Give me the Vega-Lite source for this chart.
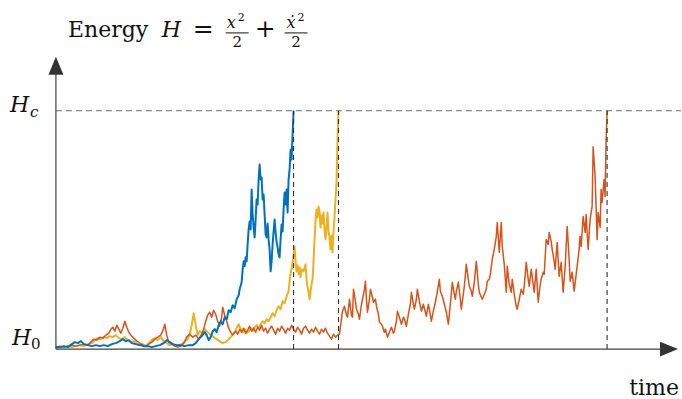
{
"$schema": "https://vega.github.io/schema/vega-lite/v6.json",
"width": 682, "height": 399,
"autosize": {"type": "fit", "contains": "padding"},
"padding": 0,
"background": "white",
"config": {"view": {"stroke": null}, "mark": {"font": "DejaVu Serif"}},
"data": {"values": [{}]},
"datasets": {
"blue": [{"t":0,"H":2},{"t":4,"H":2},{"t":8,"H":3},{"t":12,"H":2},{"t":16,"H":5},{"t":19,"H":7},{"t":22,"H":6},{"t":25,"H":8},{"t":28,"H":5},{"t":32,"H":4},{"t":36,"H":3},{"t":40,"H":4},{"t":44,"H":3},{"t":48,"H":4},{"t":52,"H":3},{"t":56,"H":5},{"t":60,"H":6},{"t":64,"H":8},{"t":67,"H":10},{"t":70,"H":8},{"t":73,"H":9},{"t":76,"H":6},{"t":80,"H":5},{"t":84,"H":4},{"t":88,"H":3},{"t":92,"H":3},{"t":96,"H":2},{"t":100,"H":3},{"t":104,"H":4},{"t":108,"H":6},{"t":111,"H":9},{"t":114,"H":7},{"t":117,"H":5},{"t":121,"H":4},{"t":125,"H":4},{"t":129,"H":3},{"t":133,"H":4},{"t":137,"H":4},{"t":140,"H":6},{"t":143,"H":10},{"t":146,"H":13},{"t":149,"H":17},{"t":151,"H":14},{"t":153,"H":9},{"t":155,"H":12},{"t":157,"H":18},{"t":159,"H":20},{"t":161,"H":17},{"t":163,"H":24},{"t":165,"H":28},{"t":167,"H":25},{"t":169,"H":32},{"t":171,"H":30},{"t":173,"H":39},{"t":175,"H":37},{"t":177,"H":44},{"t":179,"H":41},{"t":181,"H":50},{"t":183,"H":54},{"t":184,"H":60},{"t":186,"H":67},{"t":187,"H":80},{"t":188,"H":88},{"t":189,"H":83},{"t":190,"H":92},{"t":191,"H":88},{"t":192,"H":105},{"t":193,"H":120},{"t":194,"H":128},{"t":195,"H":120},{"t":196,"H":160},{"t":197,"H":135},{"t":198,"H":122},{"t":199,"H":112},{"t":200,"H":130},{"t":201,"H":150},{"t":202,"H":145},{"t":203,"H":170},{"t":204,"H":185},{"t":205,"H":170},{"t":206,"H":172},{"t":207,"H":150},{"t":208,"H":155},{"t":209,"H":135},{"t":210,"H":115},{"t":211,"H":112},{"t":212,"H":126},{"t":213,"H":110},{"t":214,"H":100},{"t":215,"H":78},{"t":216,"H":88},{"t":217,"H":105},{"t":218,"H":118},{"t":219,"H":130},{"t":220,"H":117},{"t":221,"H":108},{"t":222,"H":102},{"t":223,"H":95},{"t":224,"H":92},{"t":225,"H":110},{"t":226,"H":125},{"t":227,"H":118},{"t":228,"H":140},{"t":229,"H":157},{"t":230,"H":145},{"t":231,"H":160},{"t":232,"H":137},{"t":233,"H":170},{"t":234,"H":180},{"t":235,"H":200},{"t":236,"H":190},{"t":237,"H":215},{"t":238,"H":239}],
"yellow": [{"t":0,"H":2},{"t":4,"H":2},{"t":8,"H":2},{"t":12,"H":3},{"t":16,"H":2},{"t":20,"H":3},{"t":24,"H":4},{"t":28,"H":3},{"t":32,"H":5},{"t":36,"H":6},{"t":39,"H":9},{"t":42,"H":11},{"t":45,"H":10},{"t":48,"H":12},{"t":51,"H":11},{"t":54,"H":13},{"t":57,"H":12},{"t":60,"H":14},{"t":63,"H":11},{"t":66,"H":10},{"t":69,"H":12},{"t":72,"H":9},{"t":75,"H":7},{"t":78,"H":8},{"t":81,"H":5},{"t":84,"H":4},{"t":87,"H":5},{"t":90,"H":3},{"t":93,"H":6},{"t":96,"H":9},{"t":99,"H":11},{"t":102,"H":9},{"t":105,"H":12},{"t":108,"H":8},{"t":111,"H":6},{"t":114,"H":4},{"t":117,"H":5},{"t":120,"H":3},{"t":123,"H":4},{"t":126,"H":5},{"t":129,"H":7},{"t":132,"H":10},{"t":134,"H":15},{"t":136,"H":24},{"t":138,"H":36},{"t":140,"H":24},{"t":142,"H":14},{"t":144,"H":18},{"t":146,"H":16},{"t":149,"H":20},{"t":152,"H":17},{"t":155,"H":14},{"t":158,"H":12},{"t":161,"H":10},{"t":164,"H":8},{"t":167,"H":6},{"t":170,"H":7},{"t":173,"H":10},{"t":176,"H":13},{"t":179,"H":17},{"t":181,"H":21},{"t":183,"H":25},{"t":185,"H":20},{"t":187,"H":17},{"t":189,"H":20},{"t":191,"H":16},{"t":193,"H":18},{"t":195,"H":21},{"t":197,"H":18},{"t":199,"H":22},{"t":201,"H":24},{"t":203,"H":21},{"t":205,"H":25},{"t":207,"H":28},{"t":209,"H":26},{"t":211,"H":30},{"t":213,"H":28},{"t":215,"H":32},{"t":217,"H":36},{"t":219,"H":33},{"t":221,"H":39},{"t":223,"H":43},{"t":225,"H":40},{"t":227,"H":48},{"t":229,"H":46},{"t":231,"H":53},{"t":233,"H":58},{"t":234,"H":68},{"t":235,"H":76},{"t":236,"H":80},{"t":237,"H":88},{"t":238,"H":95},{"t":239,"H":103},{"t":240,"H":88},{"t":241,"H":78},{"t":242,"H":84},{"t":243,"H":75},{"t":244,"H":82},{"t":245,"H":72},{"t":246,"H":80},{"t":248,"H":78},{"t":250,"H":85},{"t":251,"H":70},{"t":252,"H":62},{"t":253,"H":57},{"t":254,"H":50},{"t":255,"H":58},{"t":256,"H":65},{"t":257,"H":70},{"t":258,"H":88},{"t":259,"H":110},{"t":260,"H":128},{"t":261,"H":140},{"t":262,"H":132},{"t":263,"H":143},{"t":264,"H":138},{"t":265,"H":122},{"t":266,"H":134},{"t":267,"H":126},{"t":268,"H":137},{"t":269,"H":120},{"t":270,"H":110},{"t":271,"H":122},{"t":272,"H":137},{"t":273,"H":118},{"t":274,"H":112},{"t":275,"H":100},{"t":276,"H":114},{"t":277,"H":97},{"t":278,"H":118},{"t":279,"H":132},{"t":280,"H":150},{"t":281,"H":167},{"t":282,"H":210},{"t":283,"H":239}],
"orange": [{"t":0,"H":2},{"t":4,"H":3},{"t":8,"H":2},{"t":12,"H":3},{"t":16,"H":4},{"t":20,"H":3},{"t":24,"H":4},{"t":28,"H":5},{"t":32,"H":4},{"t":35,"H":7},{"t":38,"H":10},{"t":41,"H":9},{"t":44,"H":12},{"t":47,"H":11},{"t":50,"H":14},{"t":53,"H":16},{"t":55,"H":20},{"t":57,"H":22},{"t":59,"H":18},{"t":61,"H":24},{"t":63,"H":20},{"t":65,"H":16},{"t":67,"H":21},{"t":69,"H":28},{"t":71,"H":22},{"t":73,"H":17},{"t":75,"H":14},{"t":78,"H":11},{"t":81,"H":8},{"t":84,"H":6},{"t":87,"H":4},{"t":90,"H":3},{"t":93,"H":5},{"t":96,"H":7},{"t":99,"H":10},{"t":102,"H":12},{"t":105,"H":14},{"t":107,"H":18},{"t":109,"H":25},{"t":111,"H":14},{"t":113,"H":7},{"t":116,"H":5},{"t":119,"H":3},{"t":122,"H":2},{"t":125,"H":3},{"t":128,"H":6},{"t":131,"H":12},{"t":134,"H":15},{"t":137,"H":12},{"t":140,"H":14},{"t":143,"H":10},{"t":146,"H":15},{"t":148,"H":20},{"t":150,"H":28},{"t":152,"H":34},{"t":154,"H":37},{"t":156,"H":32},{"t":158,"H":39},{"t":160,"H":35},{"t":162,"H":28},{"t":164,"H":23},{"t":166,"H":32},{"t":167,"H":42},{"t":169,"H":34},{"t":171,"H":28},{"t":173,"H":21},{"t":175,"H":17},{"t":177,"H":14},{"t":180,"H":18},{"t":182,"H":15},{"t":184,"H":20},{"t":186,"H":17},{"t":188,"H":21},{"t":190,"H":16},{"t":192,"H":19},{"t":194,"H":23},{"t":196,"H":18},{"t":198,"H":21},{"t":200,"H":17},{"t":202,"H":22},{"t":204,"H":19},{"t":206,"H":24},{"t":208,"H":18},{"t":210,"H":21},{"t":212,"H":16},{"t":214,"H":20},{"t":216,"H":23},{"t":218,"H":19},{"t":220,"H":15},{"t":222,"H":21},{"t":224,"H":18},{"t":226,"H":23},{"t":228,"H":20},{"t":230,"H":16},{"t":232,"H":21},{"t":234,"H":19},{"t":236,"H":24},{"t":238,"H":20},{"t":240,"H":17},{"t":242,"H":22},{"t":244,"H":19},{"t":246,"H":15},{"t":248,"H":21},{"t":250,"H":23},{"t":252,"H":19},{"t":254,"H":16},{"t":256,"H":20},{"t":258,"H":17},{"t":260,"H":22},{"t":262,"H":18},{"t":264,"H":15},{"t":266,"H":20},{"t":268,"H":17},{"t":270,"H":21},{"t":272,"H":16},{"t":274,"H":13},{"t":276,"H":10},{"t":278,"H":15},{"t":280,"H":12},{"t":282,"H":14},{"t":284,"H":15},{"t":285,"H":23},{"t":287,"H":38},{"t":289,"H":43},{"t":291,"H":34},{"t":292,"H":32},{"t":294,"H":50},{"t":296,"H":34},{"t":297,"H":32},{"t":298,"H":60},{"t":300,"H":48},{"t":301,"H":40},{"t":303,"H":35},{"t":304,"H":30},{"t":306,"H":45},{"t":307,"H":50},{"t":309,"H":60},{"t":310,"H":68},{"t":311,"H":50},{"t":312,"H":37},{"t":314,"H":50},{"t":315,"H":60},{"t":317,"H":52},{"t":318,"H":47},{"t":320,"H":50},{"t":321,"H":43},{"t":323,"H":35},{"t":324,"H":27},{"t":326,"H":25},{"t":327,"H":23},{"t":329,"H":17},{"t":330,"H":20},{"t":332,"H":12},{"t":334,"H":17},{"t":336,"H":22},{"t":338,"H":16},{"t":339,"H":18},{"t":341,"H":28},{"t":342,"H":38},{"t":344,"H":32},{"t":346,"H":25},{"t":348,"H":32},{"t":349,"H":30},{"t":351,"H":23},{"t":353,"H":35},{"t":355,"H":45},{"t":356,"H":57},{"t":358,"H":45},{"t":359,"H":40},{"t":361,"H":50},{"t":362,"H":60},{"t":364,"H":48},{"t":366,"H":38},{"t":368,"H":45},{"t":369,"H":41},{"t":371,"H":33},{"t":373,"H":45},{"t":374,"H":40},{"t":376,"H":28},{"t":378,"H":38},{"t":380,"H":47},{"t":382,"H":58},{"t":384,"H":70},{"t":385,"H":58},{"t":387,"H":53},{"t":389,"H":45},{"t":391,"H":37},{"t":393,"H":25},{"t":395,"H":45},{"t":397,"H":67},{"t":399,"H":55},{"t":400,"H":50},{"t":401,"H":58},{"t":403,"H":67},{"t":405,"H":50},{"t":406,"H":40},{"t":408,"H":55},{"t":409,"H":63},{"t":411,"H":85},{"t":413,"H":70},{"t":414,"H":63},{"t":416,"H":58},{"t":417,"H":53},{"t":419,"H":67},{"t":421,"H":88},{"t":423,"H":65},{"t":424,"H":57},{"t":426,"H":52},{"t":427,"H":50},{"t":429,"H":55},{"t":431,"H":60},{"t":432,"H":68},{"t":434,"H":70},{"t":435,"H":75},{"t":437,"H":90},{"t":439,"H":100},{"t":441,"H":113},{"t":442,"H":127},{"t":444,"H":97},{"t":446,"H":127},{"t":447,"H":103},{"t":449,"H":85},{"t":451,"H":57},{"t":452,"H":83},{"t":454,"H":65},{"t":456,"H":57},{"t":457,"H":70},{"t":459,"H":55},{"t":461,"H":43},{"t":462,"H":40},{"t":464,"H":50},{"t":466,"H":60},{"t":468,"H":55},{"t":469,"H":63},{"t":471,"H":87},{"t":473,"H":70},{"t":474,"H":63},{"t":476,"H":80},{"t":478,"H":65},{"t":479,"H":57},{"t":481,"H":80},{"t":483,"H":47},{"t":485,"H":65},{"t":486,"H":70},{"t":488,"H":77},{"t":489,"H":75},{"t":491,"H":110},{"t":493,"H":105},{"t":494,"H":117},{"t":496,"H":108},{"t":497,"H":100},{"t":499,"H":88},{"t":500,"H":80},{"t":501,"H":95},{"t":502,"H":107},{"t":504,"H":73},{"t":506,"H":87},{"t":508,"H":57},{"t":510,"H":83},{"t":512,"H":123},{"t":514,"H":90},{"t":515,"H":68},{"t":517,"H":77},{"t":519,"H":58},{"t":521,"H":75},{"t":522,"H":83},{"t":524,"H":100},{"t":525,"H":113},{"t":526,"H":103},{"t":528,"H":133},{"t":530,"H":117},{"t":531,"H":135},{"t":533,"H":100},{"t":535,"H":130},{"t":537,"H":143},{"t":538,"H":203},{"t":540,"H":173},{"t":542,"H":110},{"t":543,"H":137},{"t":545,"H":122},{"t":546,"H":160},{"t":547,"H":147},{"t":549,"H":170},{"t":550,"H":153},{"t":551,"H":210},{"t":552,"H":239}],
"hits": [{"t":238},{"t":283},{"t":552}]
},
"layer": [
{"mark": {"type": "rule", "color": "#6e6e6e", "strokeWidth": 1, "strokeDash": [6, 4]},
 "encoding": {"x": {"datum": 0, "type": "quantitative", "scale": {"domain": [-56, 626], "nice": false, "zero": false}, "axis": null},
  "x2": {"datum": 626}, "y": {"datum": 239, "type": "quantitative", "scale": {"domain": [-49, 350], "nice": false, "zero": false}, "axis": null}}},
{"data": {"name": "yellow"}, "mark": {"type": "line", "color": "#EDB120", "strokeWidth": 2, "strokeJoin": "round"},
 "encoding": {"x": {"field": "t", "type": "quantitative", "scale": {"domain": [-56, 626], "nice": false, "zero": false}, "axis": null},
  "y": {"field": "H", "type": "quantitative", "scale": {"domain": [-49, 350], "nice": false, "zero": false}, "axis": null}, "order": {"field": "t"}}},
{"data": {"name": "orange"}, "mark": {"type": "line", "color": "#D95319", "strokeWidth": 1.5, "strokeJoin": "round"},
 "encoding": {"x": {"field": "t", "type": "quantitative", "scale": {"domain": [-56, 626], "nice": false, "zero": false}, "axis": null},
  "y": {"field": "H", "type": "quantitative", "scale": {"domain": [-49, 350], "nice": false, "zero": false}, "axis": null}, "order": {"field": "t"}}},
{"data": {"name": "blue"}, "mark": {"type": "line", "color": "#0072BD", "strokeWidth": 2, "strokeJoin": "round"},
 "encoding": {"x": {"field": "t", "type": "quantitative", "scale": {"domain": [-56, 626], "nice": false, "zero": false}, "axis": null},
  "y": {"field": "H", "type": "quantitative", "scale": {"domain": [-49, 350], "nice": false, "zero": false}, "axis": null}, "order": {"field": "t"}}},
{"data": {"name": "hits"}, "mark": {"type": "rule", "color": "#333333", "strokeWidth": 1.1, "strokeDash": [5, 4]},
 "encoding": {"x": {"field": "t", "type": "quantitative", "scale": {"domain": [-56, 626], "nice": false, "zero": false}, "axis": null},
  "y": {"datum": 0, "type": "quantitative", "scale": {"domain": [-49, 350], "nice": false, "zero": false}, "axis": null}, "y2": {"datum": 239}}},
{"mark": {"type": "rule", "color": "#404040", "strokeWidth": 1.2},
 "encoding": {"x": {"datum": 0, "type": "quantitative", "scale": {"domain": [-56, 626], "nice": false, "zero": false}, "axis": null},
  "y": {"datum": 0, "type": "quantitative", "scale": {"domain": [-49, 350], "nice": false, "zero": false}, "axis": null}, "y2": {"datum": 284}}},
{"mark": {"type": "rule", "color": "#404040", "strokeWidth": 1.2},
 "encoding": {"x": {"datum": 0, "type": "quantitative", "scale": {"domain": [-56, 626], "nice": false, "zero": false}, "axis": null}, "x2": {"datum": 614},
  "y": {"datum": 0, "type": "quantitative", "scale": {"domain": [-49, 350], "nice": false, "zero": false}, "axis": null}}},
{"mark": {"type": "point", "shape": "M0,-1L0.83,1L-0.83,1Z", "size": 324, "filled": true, "color": "#333333", "opacity": 1, "strokeWidth": 0},
 "encoding": {"x": {"datum": 0, "type": "quantitative", "scale": {"domain": [-56, 626], "nice": false, "zero": false}, "axis": null},
  "y": {"datum": 284, "type": "quantitative", "scale": {"domain": [-49, 350], "nice": false, "zero": false}, "axis": null}}},
{"mark": {"type": "point", "shape": "M1,0L-1,0.83L-1,-0.83Z", "size": 324, "filled": true, "color": "#333333", "opacity": 1, "strokeWidth": 0},
 "encoding": {"x": {"datum": 614, "type": "quantitative", "scale": {"domain": [-56, 626], "nice": false, "zero": false}, "axis": null},
  "y": {"datum": 0, "type": "quantitative", "scale": {"domain": [-49, 350], "nice": false, "zero": false}, "axis": null}}},
{"mark": {"type": "text", "text": "Energy", "font": "DejaVu Serif", "color": "#111111", "fontSize": 22, "align": "left", "baseline": "alphabetic"},
 "encoding": {"x": {"datum": 12, "type": "quantitative", "scale": {"domain": [-56, 626], "nice": false, "zero": false}, "axis": null},
  "y": {"datum": 313, "type": "quantitative", "scale": {"domain": [-49, 350], "nice": false, "zero": false}, "axis": null}}},
{"mark": {"type": "text", "text": "H", "font": "DejaVu Serif", "color": "#111111", "fontSize": 22, "fontStyle": "italic", "align": "left", "baseline": "alphabetic"},
 "encoding": {"x": {"datum": 106, "type": "quantitative", "scale": {"domain": [-56, 626], "nice": false, "zero": false}, "axis": null},
  "y": {"datum": 313, "type": "quantitative", "scale": {"domain": [-49, 350], "nice": false, "zero": false}, "axis": null}}},
{"mark": {"type": "text", "text": "=", "font": "DejaVu Serif", "color": "#111111", "fontSize": 25, "align": "left", "baseline": "alphabetic"},
 "encoding": {"x": {"datum": 137, "type": "quantitative", "scale": {"domain": [-56, 626], "nice": false, "zero": false}, "axis": null},
  "y": {"datum": 313, "type": "quantitative", "scale": {"domain": [-49, 350], "nice": false, "zero": false}, "axis": null}}},
{"mark": {"type": "text", "text": "+", "font": "DejaVu Serif", "color": "#111111", "fontSize": 25, "align": "left", "baseline": "alphabetic"},
 "encoding": {"x": {"datum": 199, "type": "quantitative", "scale": {"domain": [-56, 626], "nice": false, "zero": false}, "axis": null},
  "y": {"datum": 313, "type": "quantitative", "scale": {"domain": [-49, 350], "nice": false, "zero": false}, "axis": null}}},
{"mark": {"type": "text", "text": "x", "font": "DejaVu Serif", "color": "#111111", "fontSize": 16, "fontStyle": "italic", "align": "left", "baseline": "alphabetic"},
 "encoding": {"x": {"datum": 171, "type": "quantitative", "scale": {"domain": [-56, 626], "nice": false, "zero": false}, "axis": null},
  "y": {"datum": 322, "type": "quantitative", "scale": {"domain": [-49, 350], "nice": false, "zero": false}, "axis": null}}},
{"mark": {"type": "text", "text": "ẋ", "font": "DejaVu Serif", "color": "#111111", "fontSize": 16, "fontStyle": "italic", "align": "left", "baseline": "alphabetic"},
 "encoding": {"x": {"datum": 231, "type": "quantitative", "scale": {"domain": [-56, 626], "nice": false, "zero": false}, "axis": null},
  "y": {"datum": 322, "type": "quantitative", "scale": {"domain": [-49, 350], "nice": false, "zero": false}, "axis": null}}},
{"data": {"values": [{"t": 182}, {"t": 242}]}, "mark": {"type": "text", "text": "2", "font": "DejaVu Serif", "color": "#111111", "fontSize": 11, "align": "left", "baseline": "alphabetic"},
 "encoding": {"x": {"field": "t", "type": "quantitative", "scale": {"domain": [-56, 626], "nice": false, "zero": false}, "axis": null},
  "y": {"datum": 329, "type": "quantitative", "scale": {"domain": [-49, 350], "nice": false, "zero": false}, "axis": null}}},
{"data": {"values": [{"t": 181.5}, {"t": 240.5}]}, "mark": {"type": "text", "text": "2", "font": "DejaVu Serif", "color": "#111111", "fontSize": 15, "align": "center", "baseline": "alphabetic"},
 "encoding": {"x": {"field": "t", "type": "quantitative", "scale": {"domain": [-56, 626], "nice": false, "zero": false}, "axis": null},
  "y": {"datum": 303, "type": "quantitative", "scale": {"domain": [-49, 350], "nice": false, "zero": false}, "axis": null}}},
{"data": {"values": [{"t": 170, "t2": 193}, {"t": 229, "t2": 252}]}, "mark": {"type": "rule", "color": "#111111", "strokeWidth": 1},
 "encoding": {"x": {"field": "t", "type": "quantitative", "scale": {"domain": [-56, 626], "nice": false, "zero": false}, "axis": null}, "x2": {"field": "t2"},
  "y": {"datum": 317, "type": "quantitative", "scale": {"domain": [-49, 350], "nice": false, "zero": false}, "axis": null}}},
{"data": {"values": [{"t": -46, "H": 238}, {"t": -44, "H": 4}]}, "mark": {"type": "text", "text": "H", "font": "DejaVu Serif", "color": "#111111", "fontSize": 22, "fontStyle": "italic", "align": "left", "baseline": "alphabetic"},
 "encoding": {"x": {"field": "t", "type": "quantitative", "scale": {"domain": [-56, 626], "nice": false, "zero": false}, "axis": null},
  "y": {"field": "H", "type": "quantitative", "scale": {"domain": [-49, 350], "nice": false, "zero": false}, "axis": null}}},
{"mark": {"type": "text", "text": "c", "font": "DejaVu Serif", "color": "#111111", "fontSize": 15, "fontStyle": "italic", "align": "left", "baseline": "alphabetic"},
 "encoding": {"x": {"datum": -26, "type": "quantitative", "scale": {"domain": [-56, 626], "nice": false, "zero": false}, "axis": null},
  "y": {"datum": 233, "type": "quantitative", "scale": {"domain": [-49, 350], "nice": false, "zero": false}, "axis": null}}},
{"mark": {"type": "text", "text": "0", "font": "DejaVu Serif", "color": "#111111", "fontSize": 15, "align": "left", "baseline": "alphabetic"},
 "encoding": {"x": {"datum": -25, "type": "quantitative", "scale": {"domain": [-56, 626], "nice": false, "zero": false}, "axis": null},
  "y": {"datum": 0, "type": "quantitative", "scale": {"domain": [-49, 350], "nice": false, "zero": false}, "axis": null}}},
{"mark": {"type": "text", "text": "time", "font": "DejaVu Serif", "color": "#111111", "fontSize": 22, "align": "right", "baseline": "alphabetic"},
 "encoding": {"x": {"datum": 624, "type": "quantitative", "scale": {"domain": [-56, 626], "nice": false, "zero": false}, "axis": null},
  "y": {"datum": -46, "type": "quantitative", "scale": {"domain": [-49, 350], "nice": false, "zero": false}, "axis": null}}}
]
}
